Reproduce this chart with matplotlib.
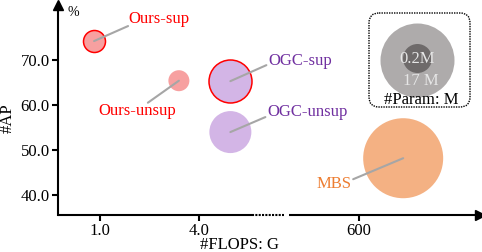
import numpy as np
import matplotlib.pyplot as plt
from matplotlib.patches import FancyBboxPatch

plt.rcParams['font.family'] = ['Liberation Serif', 'DejaVu Serif']

# data
methods = ['Ours-sup', 'Ours-unsup', 'OGC-sup', 'OGC-unsup', 'MBS']
flops = [0.82, 3.39, 4.95, 4.95, 680]          # G
ap = [74.2, 65.4, 65.3, 54.0, 48.2]            # %
x_ticks = [1.0, 4.0, 600]
x_tick_labels = ['1.0', '4.0', '600']
y_ticks = [40, 50, 60, 70]
legend_params = ['17 M', '0.2M']

# styles
radius_px = [11, 10.5, 21.5, 21, 40]
face = ['#f7a0a0', '#f7a0a0', '#d3b5e6', '#d3b5e6', '#f4b183']
edge = ['#ff0000', 'none', '#ff0000', 'none', 'none']
txt_col = ['#ff0000', '#ff0000', '#7030a0', '#7030a0', '#ed7d31']
# label offsets in pixels (line end dx, dy, text dx, dy, ha)
offsets = [(34, 15, 34, 22, 'left'),
           (-31, -22, -42, -30, 'center'),
           (36, 16, 38, 20, 'left'),
           (35, 15, 37, 20, 'left'),
           (-50, -21, -52, -26, 'right')]

# broken x axis: low part linear, gap squeezed, high part linear
xp = [-1, 5.6, 468, 1000]
fp = [-1, 5.6, 6.6, 15.6]


def fwd(x):
    return np.interp(x, xp, fp)


def inv(y):
    return np.interp(y, fp, xp)


W, H = 482, 252
fig = plt.figure(figsize=(W / 100, H / 100), dpi=100)
ax = fig.add_axes([58 / W, 37 / H, (480 - 58) / W, (247 - 37) / H])
ax.set_xscale('function', functions=(fwd, inv))

px2pt = 0.72
for i in range(len(methods)):
    s = (2 * radius_px[i] * px2pt) ** 2
    ax.scatter(flops[i], ap[i], s=s, color=face[i], edgecolors=edge[i],
               linewidths=1.1, zorder=2)
    ldx, ldy, tdx, tdy, ha = offsets[i]
    ax.annotate('', xy=(flops[i], ap[i]), xytext=(ldx * px2pt, ldy * px2pt),
                textcoords='offset points',
                arrowprops=dict(arrowstyle='-', color='#a6a6a6', lw=1.5,
                                shrinkA=0, shrinkB=0), zorder=3)
    ax.annotate(methods[i], xy=(flops[i], ap[i]), xytext=(tdx * px2pt, tdy * px2pt),
                textcoords='offset points', ha=ha, va='center',
                color=txt_col[i], fontsize=12, zorder=3)

ax.set_xlim(-0.273, 817.6)
ax.set_ylim(35.6, 82.2)
ax.set_xticks(x_ticks)
ax.set_xticklabels(x_tick_labels)
ax.xaxis.set_minor_locator(plt.NullLocator())
ax.set_yticks(y_ticks)
ax.set_yticklabels(['%.1f' % v for v in y_ticks])
ax.tick_params(direction='out', length=4, width=1.5, labelsize=12, pad=2)

for sp in ['top', 'right', 'bottom']:
    ax.spines[sp].set_visible(False)
ax.spines['left'].set_linewidth(1.5)

# broken bottom axis
xt = ax.get_xaxis_transform()
ax.plot([-0.273, 5.6], [0, 0], color='k', lw=1.5, transform=xt, clip_on=False,
        solid_capstyle='butt')
ax.plot([5.85, 460], [0, 0], color='k', lw=1.5, ls=(0, (1, 0.6)), transform=xt,
        clip_on=False)
ax.plot([475, 810], [0, 0], color='k', lw=1.5, transform=xt, clip_on=False,
        solid_capstyle='butt')
ax.plot([1], [0], marker='>', ms=7, color='k', transform=ax.transAxes, clip_on=False)
ax.plot([0], [1], marker='^', ms=7, color='k', transform=ax.transAxes, clip_on=False)

ax.set_xlabel('#FLOPS: G', fontsize=12)
ax.xaxis.set_label_coords((240 - 58) / 422, -22 / 210)
ax.set_ylabel('#AP', fontsize=12)
ax.yaxis.set_label_coords(-42 / 422, (215 - 118) / 210)
fig.text(73 / W, 1 - 13 / H, '%', fontsize=10, ha='center', va='center')

# size legend, drawn in pixel coordinates
lg = fig.add_axes([0, 0, 1, 1])
lg.set_xlim(0, W)
lg.set_ylim(H, 0)
lg.axis('off')
box = FancyBboxPatch((369, 13), 101, 94, boxstyle='round,pad=0,rounding_size=10',
                     facecolor='none', edgecolor='k', lw=1.0, ls=(0, (1, 0.8)))
lg.add_patch(box)
lg.scatter([417], [59.5], s=(2 * 37 * px2pt) ** 2, color='#aeabab', linewidths=0)
lg.scatter([417], [57.5], s=(2 * 14.5 * px2pt) ** 2, color='#6e6a6a', linewidths=0)
lg.text(417, 59, legend_params[1], color='#e6e6e6', fontsize=12, ha='center', va='center')
lg.text(421, 81, legend_params[0], color='#e6e6e6', fontsize=12, ha='center', va='center')
lg.text(421, 100, '#Param: M', color='k', fontsize=12, ha='center', va='center')

fig.savefig('out.png', dpi=100)
